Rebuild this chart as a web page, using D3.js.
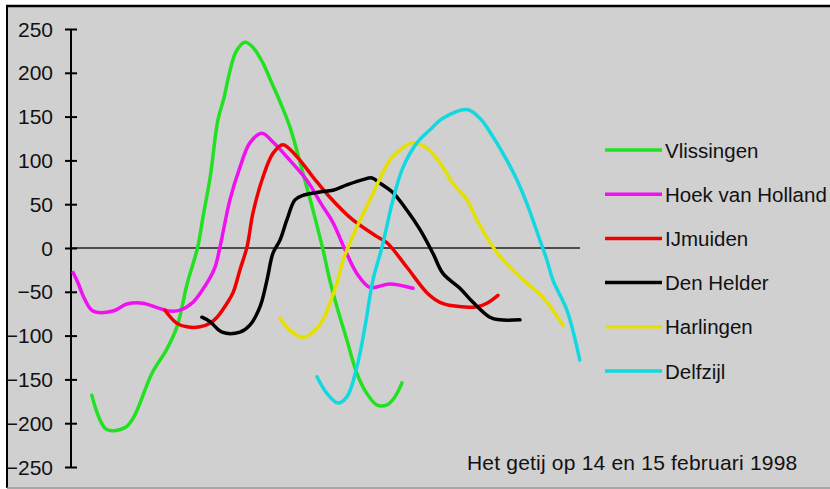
<!DOCTYPE html>
<html>
<head>
<meta charset="utf-8">
<script src="https://cdn.jsdelivr.net/npm/d3@7/dist/d3.min.js"></script>
<style>
  html, body { margin: 0; padding: 0; background: #ffffff; }
  svg { display: block; }
  text { font-family: "Liberation Sans", Arial, sans-serif; }
</style>
</head>
<body>
<svg id="chart" width="830" height="489"></svg>
<script>
// ---- data (time in hours, water level in cm) ----
const seriesNames = ["Vlissingen", "Hoek van Holland", "IJmuiden", "Den Helder", "Harlingen", "Delfzijl"];
const yTicks = [250, 200, 150, 100, 50, 0, -50, -100, -150, -200, -250];
const caption = "Het getij op 14 en 15 februari 1998";

const vlissingen = [[1.0,-168],[1.7,-207],[2.6,-205],[3.0,-194],[3.9,-143],[4.6,-116],[5.1,-90],[5.6,-40],[6.1,1],[6.35,35],[6.7,81],[7.07,146],[7.36,171],[7.6,197],[7.94,224],[8.37,235],[8.76,229],[9.24,211],[9.67,188],[10.06,167],[10.54,138],[11.16,86],[11.65,43],[12.13,-2],[12.46,-37],[12.8,-67],[13.28,-105],[13.76,-143],[14.24,-166],[14.72,-179],[15.21,-179],[15.59,-170],[15.93,-154]];
const hoekVanHolland = [[0.1,-28],[0.34,-40],[0.67,-59],[1.06,-72],[2.02,-72],[2.69,-64],[3.46,-63],[4.14,-68],[4.76,-72],[5.25,-71],[5.87,-62],[6.54,-40],[6.93,-22],[7.17,1],[7.65,55],[8.13,92],[8.61,120],[9.19,131],[9.72,121],[10.39,104],[11.36,77],[12.08,49],[12.61,29],[13.19,-2],[13.76,-29],[14.39,-45],[15.35,-41],[16.46,-46]];
const ijmuiden = [[4.52,-71],[5.1,-86],[5.58,-90],[6.21,-90],[6.69,-86],[7.03,-79],[7.51,-63],[7.8,-51],[8.13,-25],[8.47,1],[8.76,40],[9.24,81],[9.72,108],[10.2,118],[10.88,104],[11.65,81],[12.46,58],[13.57,32],[14.73,13],[15.21,6],[16.17,-22],[17.13,-51],[17.76,-62],[18.38,-66],[19.54,-67],[20.02,-63],[20.55,-54]];
const denHelder = [[6.3,-79],[6.69,-84],[7.27,-96],[8.13,-96],[8.61,-88],[9.1,-67],[9.43,-37],[9.72,-6],[10.06,9],[10.39,32],[10.78,55],[11.16,60],[11.98,64],[12.61,66],[13.28,72],[14.05,78],[14.49,80],[14.87,74],[15.5,63],[16.17,43],[16.8,21],[17.42,-6],[17.9,-29],[18.72,-46],[19.35,-62],[20.16,-79],[20.64,-82],[21.61,-82]];
const harlingen = [[10.06,-80],[10.54,-94],[11.16,-102],[11.65,-96],[12.13,-82],[12.46,-63],[12.8,-40],[13.09,-14],[13.43,6],[13.76,24],[14.39,55],[15.01,86],[15.4,102],[15.9,113],[16.41,120],[17.13,114],[17.76,97],[18.38,74],[19.06,55],[19.54,32],[20.4,-2],[21.13,-22],[21.94,-40],[22.71,-56],[23.68,-88]];
const delfzijl = [[11.84,-147],[12.32,-166],[12.85,-177],[13.28,-170],[13.76,-136],[14.15,-90],[14.53,-37],[14.97,1],[15.5,55],[15.98,92],[16.65,120],[17.28,135],[17.9,148],[19.06,158],[19.68,148],[20.31,127],[20.98,100],[21.46,78],[21.94,51],[22.57,9],[22.91,-14],[23.2,-37],[23.87,-71],[24.49,-128]];

const seriesData = [vlissingen, hoekVanHolland, ijmuiden, denHelder, harlingen, delfzijl];
const seriesColors = ["#22e022", "#f010f0", "#f00000", "#000000", "#e6e000", "#12d8e0"];

// ---- layout ----
const svg = d3.select("#chart");
const W = 830, H = 489;

// panel background and border
svg.append("rect").attr("x", 7).attr("y", 6).attr("width", W).attr("height", 481)
  .attr("fill", "#d0d0d0");
svg.append("line").attr("x1", 6).attr("x2", W).attr("y1", 6).attr("y2", 6)
  .attr("stroke", "#000").attr("stroke-width", 2.5);
svg.append("line").attr("x1", 7).attr("x2", 7).attr("y1", 6).attr("y2", 488)
  .attr("stroke", "#000").attr("stroke-width", 2);
svg.append("line").attr("x1", 7).attr("x2", W).attr("y1", 488).attr("y2", 488)
  .attr("stroke", "#888").attr("stroke-width", 1.5);

const x = d3.scaleLinear().domain([0, 24.5]).range([71, 580]);
const y = d3.scaleLinear().domain([-250, 250]).range([467, 29]);

// zero line
svg.append("line")
  .attr("x1", x(0)).attr("x2", x(24.5))
  .attr("y1", y(0)).attr("y2", y(0))
  .attr("stroke", "#222").attr("stroke-width", 1.6);

// y axis
const yAxis = d3.axisLeft(y).tickValues(yTicks).tickSize(6).tickPadding(12)
  .tickFormat(d3.format("d"));
const gy = svg.append("g").attr("transform", `translate(${x(0)},0)`).call(yAxis);
gy.select(".domain").attr("stroke", "#000").attr("stroke-width", 2).attr("d", `M0,${y(250)}V${y(-250)}`);
gy.selectAll(".tick line").attr("x1", 6).attr("x2", -6).attr("stroke", "#000").attr("stroke-width", 2);
gy.selectAll(".tick text")
  .attr("font-family", "'Liberation Sans', Arial, sans-serif")
  .attr("font-size", 21).attr("fill", "#111").attr("dy", "0.34em");

// series lines
const line = d3.line()
  .x(d => x(d[0])).y(d => y(d[1]))
  .curve(d3.curveCatmullRom.alpha(0.5));

svg.append("g").selectAll("path")
  .data(seriesData)
  .join("path")
  .attr("d", line)
  .attr("fill", "none")
  .attr("stroke", (d, i) => seriesColors[i])
  .attr("stroke-width", 3.5)
  .attr("stroke-linejoin", "round")
  .attr("stroke-linecap", "round");

// legend
const legend = svg.append("g");
const legY = d3.scaleLinear().domain([0, 5]).range([150, 371]);
seriesNames.forEach((name, i) => {
  legend.append("line")
    .attr("x1", 605).attr("x2", 662)
    .attr("y1", legY(i)).attr("y2", legY(i))
    .attr("stroke", seriesColors[i]).attr("stroke-width", 3.5);
  legend.append("text")
    .attr("x", 665).attr("y", legY(i) + 7.5)
    .attr("font-size", 20.5).attr("fill", "#111")
    .text(name);
});

// caption
svg.append("text")
  .attr("x", 467).attr("y", 470)
  .attr("font-size", 21).attr("fill", "#111")
  .attr("letter-spacing", 0.2)
  .text(caption);
</script>
</body>
</html>
